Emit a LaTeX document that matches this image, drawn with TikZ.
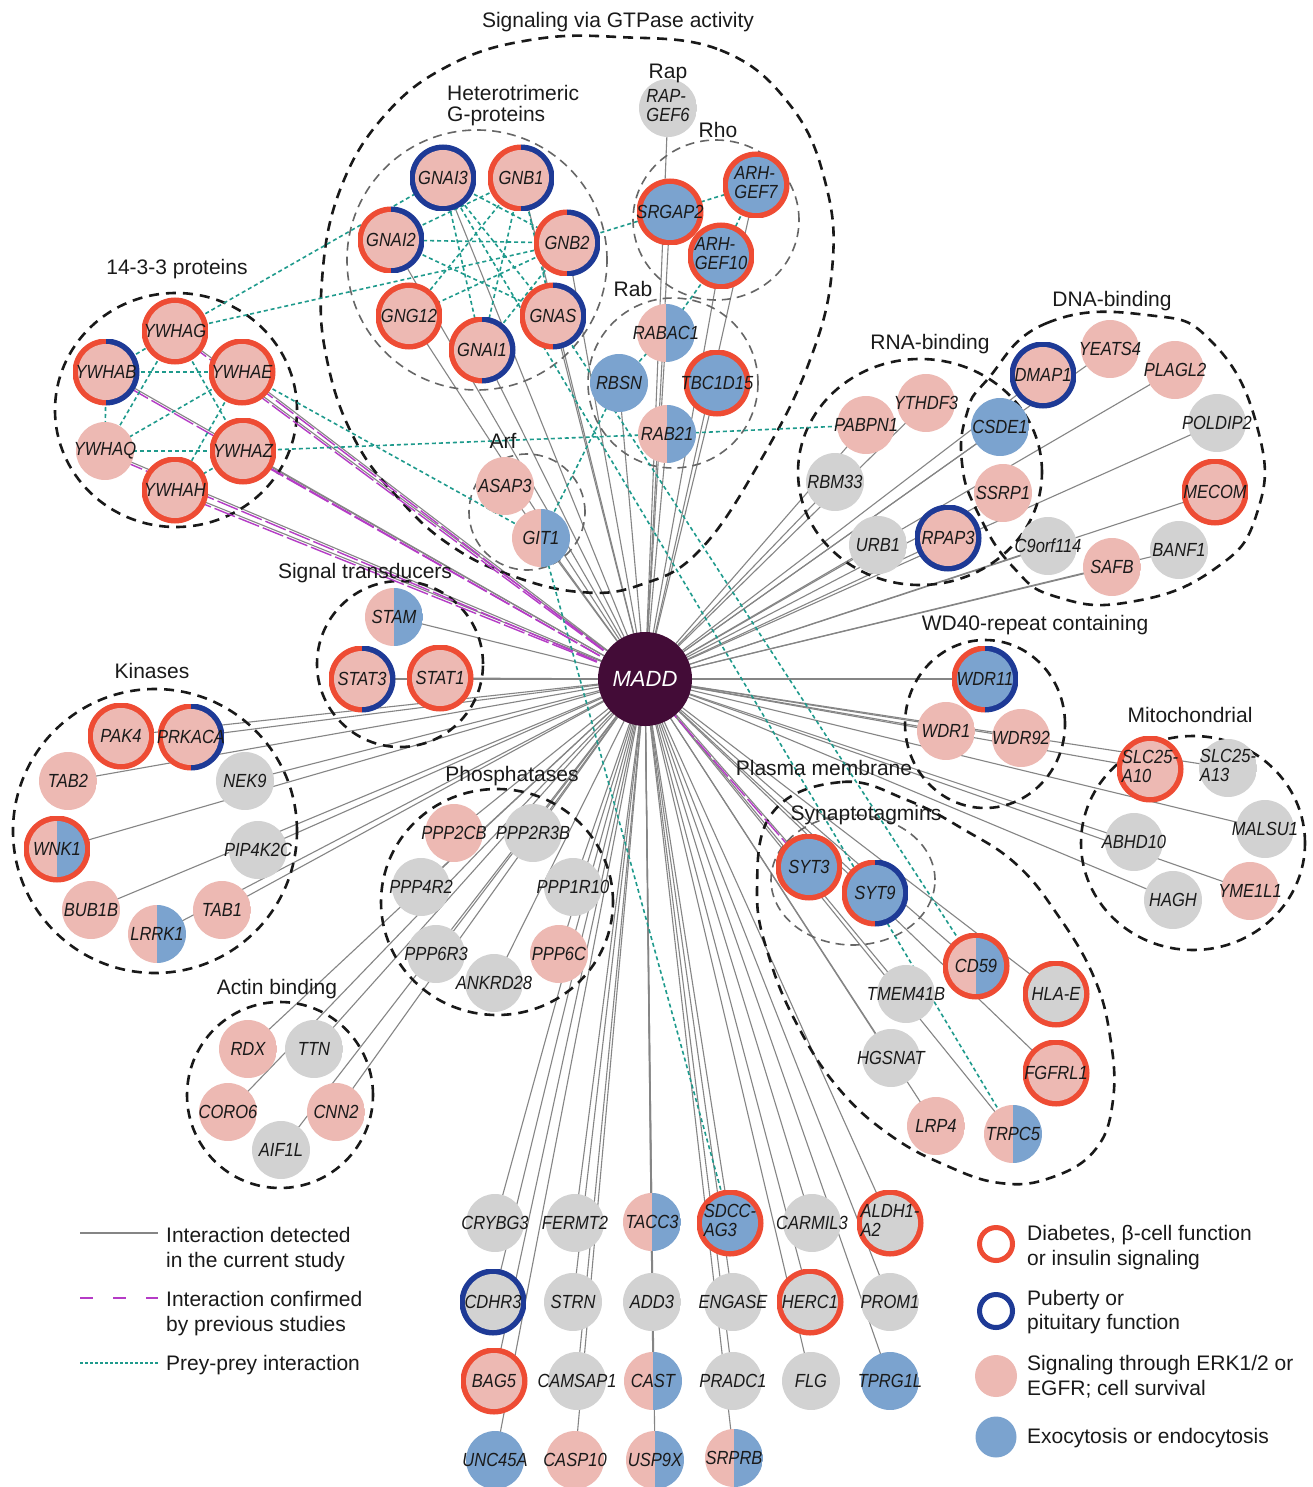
\documentclass[tikz,border=0pt]{standalone}
\usepackage{fontspec}
\setmainfont{Liberation Sans}
\newfontfamily\labfont[FakeStretch=0.87]{Liberation Sans}
\pgfdeclarelayer{back}
\pgfdeclarelayer{edges}
\pgfsetlayers{back,edges,main}
\definecolor{cpk}{HTML}{EDB9B3}
\definecolor{cbl}{HTML}{7BA3CF}
\definecolor{cgy}{HTML}{D2D2D2}
\definecolor{cred}{HTML}{EE4C34}
\definecolor{cdb}{HTML}{1E3A96}
\definecolor{cmadd}{HTML}{430C37}
\definecolor{cteal}{HTML}{1E9A8C}
\definecolor{cmag}{HTML}{B53BC6}
\definecolor{cedge}{HTML}{858585}
\definecolor{ctxt}{HTML}{1A1A1A}
\newcommand\nl[1]{\makebox[0pt]{#1}}
\newcommand\nll[2]{\makebox[0pt]{\begin{tabular}{@{}l@{}}#1\\#2\end{tabular}}}
\tikzset{
 fillL/.store in=\protFL, fillR/.store in=\protFR,
 ringL/.store in=\protRL, ringR/.store in=\protRR,
 fillL=cpk, fillR=cpk, ringL=cpk, ringR=cpk,
 prot/.style={circle, inner sep=0pt, minimum size=58pt, text=ctxt,
  font=\labfont\fontsize{19}{19.5}\selectfont\itshape,
  path picture={
   \path[fill=\protRL] (path picture bounding box.north west) rectangle (path picture bounding box.south);
   \path[fill=\protRR] (path picture bounding box.north) rectangle (path picture bounding box.south east);
   \begin{scope}
    \clip (path picture bounding box.center) circle[radius=28pt];
    \path[fill=\protFL] (path picture bounding box.north west) rectangle (path picture bounding box.south);
    \path[fill=\protFR] (path picture bounding box.north) rectangle (path picture bounding box.south east);
   \end{scope}
  }},
 fpk/.style={fillL=cpk,fillR=cpk,ringL=cpk,ringR=cpk},
 fbl/.style={fillL=cbl,fillR=cbl,ringL=cbl,ringR=cbl},
 fgy/.style={fillL=cgy,fillR=cgy,ringL=cgy,ringR=cgy},
 fpb/.style={fillL=cpk,fillR=cbl,ringL=cpk,ringR=cbl},
 rred/.style={ringL=cred,ringR=cred,minimum size=67pt},
 rdb/.style={ringL=cdb,ringR=cdb,minimum size=67pt},
 rrd/.style={ringL=cred,ringR=cdb,minimum size=67pt},
 link/.style={draw=cedge, line width=1.1pt},
 pp/.style={draw=cteal, line width=1.6pt, dash pattern=on 4pt off 3pt},
 magl/.style={draw=cmag, line width=1.4pt, dash pattern=on 22pt off 4pt},
 grp/.style={draw=black!90, line width=2.6pt, dash pattern=on 10pt off 7pt},
 sgrp/.style={draw=black!60, line width=1.6pt, dash pattern=on 9pt off 6pt},
 glab/.style={font=\fontsize{21}{25}\selectfont, text=ctxt, inner sep=0pt, anchor=base},
 lgt/.style={font=\fontsize{21}{25}\selectfont, text=ctxt, inner sep=0pt, anchor=base west},
}
\begin{document}
\begin{tikzpicture}[x=1pt,y=-1pt]
\useasboundingbox (0,0) rectangle (1312,1487);
\begin{pgfonlayer}{back}
\fill[white] (0,0) rectangle (1312,1487);
\end{pgfonlayer}

% ---------- hub
\node[circle, fill=cmadd, minimum size=94pt, inner sep=0pt, text=white,
  font=\fontsize{22}{26}\selectfont\itshape] (madd) at (645,679) {MADD};

% ---------- GTPase
\node[prot,fpk,rdb] (gnai3) at (443,178) {\nl{GNAI3}};
\node[prot,fpk,rrd] (gnb1) at (521,178) {\nl{GNB1}};
\node[prot,fpk,rrd] (gnai2) at (391,240) {\nl{GNAI2}};
\node[prot,fpk,rrd] (gnb2) at (567,243) {\nl{GNB2}};
\node[prot,fpk,rred] (gng12) at (409,316) {\nl{GNG12}};
\node[prot,fpk,rrd] (gnas) at (553,316) {\nl{GNAS}};
\node[prot,fpk,rrd] (gnai1) at (482,350) {\nl{GNAI1}};
\node[prot,fgy] (rapgef6) at (668,108) {\nll{RAP-}{GEF6}};
\node[prot,fbl,rred] (srgap2) at (670,212) {\nl{SRGAP2}};
\node[prot,fbl,rred] (arhgef7) at (756,185) {\nll{ARH-}{GEF7}};
\node[prot,fbl,rred] (arhgef10) at (721,256) {\nll{ARH-}{GEF10}};
\node[prot,fpb] (rabac1) at (666,333) {\nl{RABAC1}};
\node[prot,fbl] (rbsn) at (619,383) {\nl{RBSN}};
\node[prot,fbl,rred] (tbc1d15) at (717,383) {\nl{TBC1D15}};
\node[prot,fpb] (rab21) at (667,434) {\nl{RAB21}};
\node[prot,fpk] (asap3) at (505,486) {\nl{ASAP3}};
\node[prot,fpb] (git1) at (541,538) {\nl{GIT1}};
% ---------- 14-3-3
\node[prot,fpk,rred] (ywhag) at (175,331) {\nl{YWHAG}};
\node[prot,fpk,rrd] (ywhab) at (106,372) {\nl{YWHAB}};
\node[prot,fpk,rred] (ywhae) at (242,372) {\nl{YWHAE}};
\node[prot,fpk] (ywhaq) at (105,451) {\nl{YWHAQ}};
\node[prot,fpk,rred] (ywhaz) at (243,451) {\nl{YWHAZ}};
\node[prot,fpk,rred] (ywhah) at (175,490) {\nl{YWHAH}};
% ---------- signal transducers
\node[prot,fpb] (stam) at (394,617) {\nl{STAM}};
\node[prot,fpk,rrd] (stat3) at (362,679) {\nl{STAT3}};
\node[prot,fpk,rred] (stat1) at (440,678) {\nl{STAT1}};
% ---------- kinases
\node[prot,fpk,rred] (pak4) at (121,736) {\nl{PAK4}};
\node[prot,fpk,rrd] (prkaca) at (191,737) {\nl{PRKACA}};
\node[prot,fpk] (tab2) at (68,781) {\nl{TAB2}};
\node[prot,fgy] (nek9) at (245,781) {\nl{NEK9}};
\node[prot,fpb,rred] (wnk1) at (57,849) {\nl{WNK1}};
\node[prot,fgy] (pip4k2c) at (258,850) {\nl{PIP4K2C}};
\node[prot,fpk] (bub1b) at (91,910) {\nl{BUB1B}};
\node[prot,fpk] (tab1) at (222,910) {\nl{TAB1}};
\node[prot,fpb] (lrrk1) at (157,934) {\nl{LRRK1}};
% ---------- phosphatases
\node[prot,fpk] (ppp2cb) at (454,833) {\nl{PPP2CB}};
\node[prot,fgy] (ppp2r3b) at (533,833) {\nl{PPP2R3B}};
\node[prot,fgy] (ppp4r2) at (421,887) {\nl{PPP4R2}};
\node[prot,fgy] (ppp1r10) at (573,887) {\nl{PPP1R10}};
\node[prot,fgy] (ppp6r3) at (436,954) {\nl{PPP6R3}};
\node[prot,fgy] (ankrd28) at (494,983) {\nl{ANKRD28}};
\node[prot,fpk] (ppp6c) at (559,954) {\nl{PPP6C}};
% ---------- actin binding
\node[prot,fpk] (rdx) at (248,1049) {\nl{RDX}};
\node[prot,fgy] (ttn) at (314,1049) {\nl{TTN}};
\node[prot,fpk] (coro6) at (228,1112) {\nl{CORO6}};
\node[prot,fpk] (cnn2) at (336,1112) {\nl{CNN2}};
\node[prot,fgy] (aif1l) at (281,1150) {\nl{AIF1L}};
% ---------- RNA-binding
\node[prot,fpk] (pabpn1) at (866,425) {\nl{PABPN1}};
\node[prot,fpk] (ythdf3) at (926,403) {\nl{YTHDF3}};
\node[prot,fgy] (rbm33) at (835,482) {\nl{RBM33}};
\node[prot,fgy] (urb1) at (878,545) {\nl{URB1}};
\node[prot,fpk,rdb] (rpap3) at (948,538) {\nl{RPAP3}};
\node[prot,fbl] (csde1) at (1000,427) {\nl{CSDE1}};
\node[prot,fpk] (ssrp1) at (1003,493) {\nl{SSRP1}};
% ---------- DNA-binding
\node[prot,fpk,rdb] (dmap1) at (1043,375) {\nl{DMAP1}};
\node[prot,fpk] (yeats4) at (1110,349) {\nl{YEATS4}};
\node[prot,fpk] (plagl2) at (1175,370) {\nl{PLAGL2}};
\node[prot,fgy] (poldip2) at (1217,423) {\nl{POLDIP2}};
\node[prot,fpk,rred] (mecom) at (1215,492) {\nl{MECOM}};
\node[prot,fgy] (c9orf114) at (1048,546) {\nl{C9orf114}};
\node[prot,fpk] (safb) at (1112,567) {\nl{SAFB}};
\node[prot,fgy] (banf1) at (1179,550) {\nl{BANF1}};
% ---------- WD40
\node[prot,fbl,rrd] (wdr11) at (985,679) {\nl{WDR11}};
\node[prot,fpk] (wdr1) at (946,731) {\nl{WDR1}};
\node[prot,fpk] (wdr92) at (1021,738) {\nl{WDR92}};
% ---------- mitochondrial
\node[prot,fpk,rred] (slc25a10) at (1150,769) {\nll{SLC25-}{A10}};
\node[prot,fgy] (slc25a13) at (1228,768) {\nll{SLC25-}{A13}};
\node[prot,fgy] (abhd10) at (1134,842) {\nl{ABHD10}};
\node[prot,fgy] (malsu1) at (1265,829) {\nl{MALSU1}};
\node[prot,fgy] (hagh) at (1173,900) {\nl{HAGH}};
\node[prot,fpk] (yme1l1) at (1250,891) {\nl{YME1L1}};
% ---------- plasma membrane
\node[prot,fbl,rred] (syt3) at (809,867) {\nl{SYT3}};
\node[prot,fbl,rrd] (syt9) at (875,893) {\nl{SYT9}};
\node[prot,fpb,rred] (cd59) at (976,966) {\nl{CD59}};
\node[prot,fgy,rred] (hlae) at (1056,994) {\nl{HLA-E}};
\node[prot,fgy] (tmem41b) at (906,994) {\nl{TMEM41B}};
\node[prot,fgy] (hgsnat) at (891,1058) {\nl{HGSNAT}};
\node[prot,fpk,rred] (fgfrl1) at (1056,1073) {\nl{FGFRL1}};
\node[prot,fpk] (lrp4) at (936,1126) {\nl{LRP4}};
\node[prot,fpb] (trpc5) at (1013,1134) {\nl{TRPC5}};
% ---------- bottom block
\node[prot,fgy] (crybg3) at (495,1223) {\nl{CRYBG3}};
\node[prot,fgy] (fermt2) at (575,1223) {\nl{FERMT2}};
\node[prot,fpb] (tacc3) at (652,1222) {\nl{TACC3}};
\node[prot,fbl,rred] (sdccag3) at (730,1223) {\nll{SDCC-}{AG3}};
\node[prot,fgy] (carmil3) at (812,1223) {\nl{CARMIL3}};
\node[prot,fgy,rred] (aldh1a2) at (890,1223) {\nll{ALDH1-}{A2}};
\node[prot,fgy,rdb] (cdhr3) at (493,1302) {\nl{CDHR3}};
\node[prot,fgy] (strn) at (573,1302) {\nl{STRN}};
\node[prot,fgy] (add3) at (652,1302) {\nl{ADD3}};
\node[prot,fgy] (engase) at (733,1302) {\nl{ENGASE}};
\node[prot,fgy,rred] (herc1) at (810,1302) {\nl{HERC1}};
\node[prot,fgy] (prom1) at (890,1302) {\nl{PROM1}};
\node[prot,fpk,rred] (bag5) at (494,1381) {\nl{BAG5}};
\node[prot,fgy] (camsap1) at (577,1381) {\nl{CAMSAP1}};
\node[prot,fpb] (cast) at (653,1381) {\nl{CAST}};
\node[prot,fgy] (pradc1) at (733,1381) {\nl{PRADC1}};
\node[prot,fgy] (flg) at (811,1381) {\nl{FLG}};
\node[prot,fbl] (tprg1l) at (890,1381) {\nl{TPRG1L}};
\node[prot,fbl] (unc45a) at (495,1460) {\nl{UNC45A}};
\node[prot,fpk] (casp10) at (575,1460) {\nl{CASP10}};
\node[prot,fpb] (usp9x) at (655,1460) {\nl{USP9X}};
\node[prot,fpb] (srprb) at (734,1458) {\nl{SRPRB}};

% ---------- group labels
\node[glab] (lsig) at (618,28) {Signaling via GTPase activity};
\node[glab, anchor=base west] (lhet1) at (447,101) {Heterotrimeric};
\node[glab, anchor=base west] (lhet2) at (447,122) {G-proteins};
\node[glab] (lrap) at (668,79) {Rap};
\node[glab] (lrho) at (718,138) {Rho};
\node[glab] (lrab) at (633,297) {Rab};
\node[glab] (larf) at (503,448) {Arf};
\node[glab] (l1433) at (177,275) {14-3-3 proteins};
\node[glab] (lst) at (365,578) {Signal transducers};
\node[glab] (lkin) at (152,678) {Kinases};
\node[glab] (lphos) at (512,781) {Phosphatases};
\node[glab] (lact) at (277,994) {Actin binding};
\node[glab] (lrna) at (930,349) {RNA-binding};
\node[glab] (ldna) at (1112,307) {DNA-binding};
\node[glab] (lwd) at (1035,630) {WD40-repeat containing};
\node[glab] (lmito) at (1190,722) {Mitochondrial};
\node[glab] (lpm) at (824,775) {Plasma membrane};
\node[glab] (lsyt) at (866,820) {Synaptotagmins};

% ---------- legend
\coordinate (lga1) at (80,1233); \coordinate (lga2) at (158,1233);
\coordinate (lgb1) at (80,1298); \coordinate (lgb2) at (158,1298);
\coordinate (lgc1) at (80,1363); \coordinate (lgc2) at (158,1363);
\draw[link] (lga1) -- (lga2);
\draw[draw=cmag, line width=1.6pt, dash pattern=on 13pt off 20pt] (lgb1) -- (lgb2);
\draw[draw=cteal, line width=1.6pt, dash pattern=on 3pt off 2pt] (lgc1) -- (lgc2);
\node[lgt] (lt1) at (166,1242) {Interaction detected};
\node[lgt] (lt2) at (166,1267) {in the current study};
\node[lgt] (lt3) at (166,1306) {Interaction confirmed};
\node[lgt] (lt4) at (166,1331) {by previous studies};
\node[lgt] (lt5) at (166,1370) {Prey-prey interaction};
\node[circle, draw=cred, line width=5pt, minimum size=33pt, inner sep=0pt] (lgr) at (996,1244) {};
\node[circle, draw=cdb, line width=5pt, minimum size=33pt, inner sep=0pt] (lgd) at (996,1311) {};
\node[circle, fill=cpk, minimum size=42pt, inner sep=0pt] (lgp) at (996,1376) {};
\node[circle, fill=cbl, minimum size=41pt, inner sep=0pt] (lgbl) at (996,1437) {};
\node[lgt] (rt1) at (1027,1240) {Diabetes, β-cell function};
\node[lgt] (rt2) at (1027,1265) {or insulin signaling};
\node[lgt] (rt3) at (1027,1305) {Puberty or};
\node[lgt] (rt4) at (1027,1329) {pituitary function};
\node[lgt] (rt5) at (1027,1370) {Signaling through ERK1/2 or};
\node[lgt] (rt6) at (1027,1395) {EGFR; cell survival};
\node[lgt] (rt7) at (1027,1443) {Exocytosis or endocytosis};

% ---------- edges and outlines
\begin{pgfonlayer}{edges}
\foreach \n in {gnai3,gnb1,gnai2,gnb2,gng12,gnas,gnai1,rapgef6,srgap2,arhgef7,arhgef10,
 rabac1,rbsn,tbc1d15,rab21,asap3,git1,ywhag,ywhab,ywhae,ywhaq,ywhaz,ywhah,stam,stat3,stat1,
 pak4,prkaca,tab2,nek9,wnk1,pip4k2c,bub1b,tab1,lrrk1,ppp2cb,ppp2r3b,ppp4r2,ppp1r10,ppp6r3,
 ankrd28,ppp6c,rdx,ttn,coro6,cnn2,aif1l,pabpn1,ythdf3,rbm33,urb1,rpap3,csde1,ssrp1,dmap1,
 yeats4,plagl2,poldip2,mecom,c9orf114,safb,banf1,wdr11,wdr1,wdr92,slc25a10,slc25a13,abhd10,
 malsu1,hagh,yme1l1,syt3,syt9,cd59,hlae,tmem41b,hgsnat,fgfrl1,lrp4,trpc5,crybg3,fermt2,tacc3,
 sdccag3,carmil3,aldh1a2,cdhr3,strn,add3,engase,herc1,prom1,bag5,camsap1,cast,pradc1,flg,
 tprg1l,unc45a,casp10,usp9x,srprb}
  \draw[link] (madd.center) -- (\n.center);
% group outlines
\draw[grp] plot[smooth cycle, tension=0.7] coordinates {(618,37) (720,50) (790,105) (826,185)
 (832,270) (810,360) (762,458) (700,550) (640,585) (580,592) (510,575) (450,545) (400,500)
 (355,440) (327,360) (322,280) (340,190) (385,115) (450,65) (530,40)};
\draw[sgrp] (477,260) circle[radius=130pt];
\draw[sgrp] (716,220) ellipse[x radius=83pt, y radius=80pt];
\draw[sgrp] (673,383) circle[radius=85pt];
\draw[sgrp] (527,512) circle[radius=58pt];
\draw[grp] (176,410) ellipse[x radius=121pt, y radius=117pt];
\draw[grp] (400,664) circle[radius=83pt];
\draw[grp] (155,831) circle[radius=142pt];
\draw[grp] (497,902) ellipse[x radius=116pt, y radius=113pt];
\draw[grp] (280,1095) circle[radius=93pt];
\draw[grp] (920,472) ellipse[x radius=122pt, y radius=113pt];
\draw[grp] plot[smooth cycle, tension=0.8] coordinates {(987,380) (1047,323) (1147,315)
 (1213,343) (1258,430) (1257,513) (1213,570) (1130,602) (1057,597) (1013,567) (978,513)
 (962,463) (967,413)};
\draw[grp] (985,724) ellipse[x radius=80pt, y radius=84pt];
\draw[grp] (1193,843) ellipse[x radius=112pt, y radius=107pt];
\draw[grp] plot[smooth cycle, tension=0.7] coordinates {(773,812) (842,782) (907,800)
 (963,829) (1016,864) (1057,914) (1093,975) (1110,1036) (1113,1100) (1095,1150) (1050,1178)
 (1000,1183) (945,1165) (890,1135) (840,1090) (800,1030) (770,960) (757,890)};
\draw[sgrp] (853,880) ellipse[x radius=82pt, y radius=65pt];
% previously confirmed interactions
\foreach \n in {ywhab,ywhag,ywhae,ywhaq,ywhaz,ywhah,syt3}
  \draw[magl, transform canvas={yshift=-2.5pt}] (madd.center) -- (\n.center);
% prey-prey interactions
\foreach \a/\b in {ywhab/ywhae,ywhab/ywhag,ywhab/ywhaq,ywhag/ywhaq,ywhag/ywhaz,ywhae/ywhaq,
 ywhae/ywhah,ywhaq/ywhaz,ywhaz/ywhah,ywhag/gnai3,ywhag/gnb2,ywhae/git1,ywhaz/rab21,
 rab21/pabpn1,gnai3/gnb2,gnai3/gnas,gnai3/gnai1,gnb1/gnai2,gnb1/gng12,gnb1/gnai1,gnb1/gnas,
 gnb2/gnai2,gnb2/gng12,gnb2/gnai1,gnai2/gnas,gnb2/arhgef7,arhgef7/arhgef10,arhgef10/rabac1,
 rabac1/rbsn,rbsn/git1,git1/sdccag3,gnas/cd59,gnai3/trpc5}
  \draw[pp] (\a.center) -- (\b.center);
\end{pgfonlayer}
\end{tikzpicture}
\end{document}
